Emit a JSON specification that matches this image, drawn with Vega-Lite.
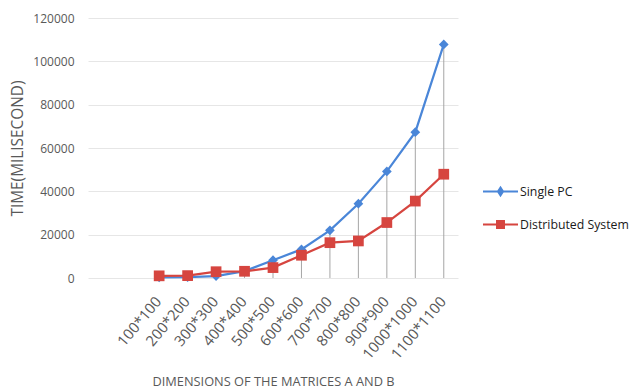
{
  "$schema": "https://vega.github.io/schema/vega-lite/v6.json",
  "width": 370,
  "height": 260,
  "autosize": {"type": "none"},
  "padding": {"left": 88, "top": 18, "right": 176, "bottom": 113},
  "background": "white",
  "config": {
    "font": "Open Sans",
    "view": {"stroke": null},
    "axis": {"labelColor": "#595959", "titleColor": "#595959", "labelFont": "Open Sans", "titleFont": "Open Sans", "titleFontWeight": "normal"}
  },
  "data": {
    "values": [
      {"dim": "100*100", "series": "Single PC", "time": 300},
      {"dim": "200*200", "series": "Single PC", "time": 400},
      {"dim": "300*300", "series": "Single PC", "time": 900},
      {"dim": "400*400", "series": "Single PC", "time": 3200},
      {"dim": "500*500", "series": "Single PC", "time": 8200},
      {"dim": "600*600", "series": "Single PC", "time": 13200},
      {"dim": "700*700", "series": "Single PC", "time": 22000},
      {"dim": "800*800", "series": "Single PC", "time": 34300},
      {"dim": "900*900", "series": "Single PC", "time": 49200},
      {"dim": "1000*1000", "series": "Single PC", "time": 67300},
      {"dim": "1100*1100", "series": "Single PC", "time": 107800},
      {"dim": "100*100", "series": "Distributed System", "time": 1000},
      {"dim": "200*200", "series": "Distributed System", "time": 1100},
      {"dim": "300*300", "series": "Distributed System", "time": 2900},
      {"dim": "400*400", "series": "Distributed System", "time": 3100},
      {"dim": "500*500", "series": "Distributed System", "time": 4800},
      {"dim": "600*600", "series": "Distributed System", "time": 10500},
      {"dim": "700*700", "series": "Distributed System", "time": 16300},
      {"dim": "800*800", "series": "Distributed System", "time": 17100},
      {"dim": "900*900", "series": "Distributed System", "time": 25600},
      {"dim": "1000*1000", "series": "Distributed System", "time": 35500},
      {"dim": "1100*1100", "series": "Distributed System", "time": 47900}
    ]
  },
  "encoding": {
    "x": {
      "field": "dim",
      "type": "nominal",
      "sort": null,
      "scale": {
        "type": "band",
        "paddingInner": 0,
        "paddingOuter": 0,
        "domain": ["_gap1", "_gap2", "100*100", "200*200", "300*300", "400*400", "500*500", "600*600", "700*700", "800*800", "900*900", "1000*1000", "1100*1100"]
      },
      "axis": {
        "title": "DIMENSIONS OF THE MATRICES A AND B",
        "titleFontSize": 12.8,
        "titleX": 185,
        "titleY": 103,
        "titleBaseline": "middle",
        "titleAlign": "center",
        "labelExpr": "indexof(datum.value, '_') == 0 ? '' : datum.value",
        "labelAngle": -50,
        "labelAlign": "right",
        "labelBaseline": "middle",
        "labelPadding": 21,
        "labelFontSize": 14.8,
        "ticks": false,
        "domain": false,
        "grid": false
      }
    },
    "y": {
      "field": "time",
      "type": "quantitative",
      "scale": {"domain": [0, 120000], "nice": false},
      "axis": {
        "title": "TIME(MILISECOND)",
        "titleFontSize": 15.4,
        "titleX": -71,
        "titleY": 130,
        "titleAngle": -90,
        "titleAlign": "center",
        "titleBaseline": "middle",
        "values": [0, 20000, 40000, 60000, 80000, 100000, 120000],
        "format": "d",
        "labelFontSize": 12,
        "labelPadding": 14,
        "ticks": false,
        "domain": false,
        "grid": true,
        "gridColor": "#E6E6E6",
        "gridWidth": 1
      }
    }
  },
  "layer": [
    {
      "mark": {"type": "rule", "color": "#A6A6A6", "strokeWidth": 1},
      "encoding": {
        "y": {"aggregate": "max", "field": "time", "type": "quantitative"},
        "y2": {"datum": 0}
      }
    },
    {
      "mark": {"type": "line", "strokeWidth": 2.2},
      "encoding": {
        "color": {
          "field": "series",
          "type": "nominal",
          "scale": {"domain": ["Single PC", "Distributed System"], "range": ["#4A86D8", "#D6453F"]},
          "legend": {
            "title": null,
            "orient": "none",
            "legendX": 403,
            "legendY": 164,
            "padding": 0,
            "rowPadding": 15,
            "labelFontSize": 12.3,
            "labelColor": "#1a1a1a",
            "labelOffset": 10,
            "symbolSize": 289,
            "symbolStrokeWidth": 2,
            "symbolType": {"expr": "datum.value == 'Single PC' ? 'M-2.06,0L2.06,0M0,-0.47L0.3,0L0,0.47L-0.3,0Z' : 'M-2.06,0L2.06,0M-0.41,-0.41L0.41,-0.41L0.41,0.41L-0.41,0.41Z'"},
            "symbolFillColor": {"expr": "scale('color', datum.value)"}
          }
        }
      }
    },
    {
      "mark": {"type": "point", "filled": true, "opacity": 1, "strokeWidth": 0},
      "encoding": {
        "fill": {
          "field": "series",
          "type": "nominal",
          "scale": {"domain": ["Single PC", "Distributed System"], "range": ["#4A86D8", "#D6453F"]},
          "legend": null
        },
        "shape": {"condition": {"test": "datum.series == 'Single PC'", "value": "diamond"}, "value": "square"},
        "size": {"condition": {"test": "datum.series == 'Single PC'", "value": 95}, "value": 115}
      }
    }
  ]
}
